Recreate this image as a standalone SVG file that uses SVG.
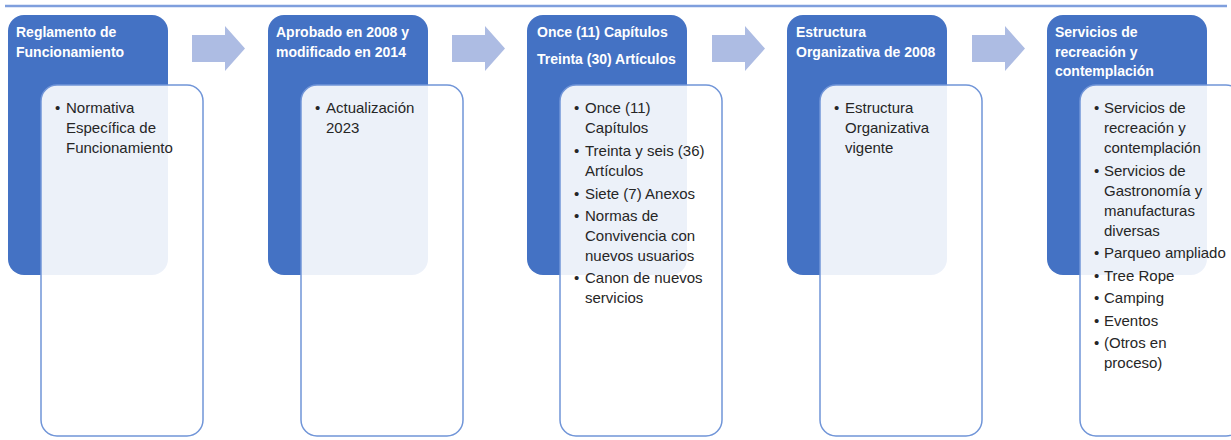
<svg xmlns="http://www.w3.org/2000/svg" width="1231" height="440" viewBox="0 0 1231 440">
<style>
.bg{fill:#ffffff}
.hdr{fill:#4472C4}
.card{fill:#ffffff;fill-opacity:0.9;stroke:#7095D8;stroke-width:1.5}
.ht{font-family:"Liberation Sans",Arial,sans-serif;font-weight:bold;font-size:14px;fill:#ffffff}
.bt{font-family:"Liberation Sans",Arial,sans-serif;font-size:15px;fill:#262626}
.arrow{fill:#ADBCE3}
.topline{stroke:#7F9FDD;stroke-width:2.5}
</style>
<rect class="bg" x="0" y="0" width="1231" height="440"/>
<line class="topline" x1="5" y1="6" x2="1227" y2="6"/>

<g id="connectors">
<path class="arrow" d="M192,35 H225 V26 L245,48.5 L225,71 V62 H192 Z"/>
<path class="arrow" d="M452,35 H485 V26 L505,48.5 L485,71 V62 H452 Z"/>
<path class="arrow" d="M712,35 H745 V26 L765,48.5 L745,71 V62 H712 Z"/>
<path class="arrow" d="M972,35 H1005 V26 L1025,48.5 L1005,71 V62 H972 Z"/>
</g>

<g id="node1">
<rect class="hdr" x="8" y="15" width="160" height="260" rx="16"/>
<text class="ht" x="16" y="37">Reglamento de</text>
<text class="ht" x="16" y="57">Funcionamiento</text>
<rect class="card" x="41" y="85" width="162" height="351" rx="16"/>
<text class="bt" x="55" y="113">•</text>
<text class="bt" x="66" y="113">Normativa</text>
<text class="bt" x="66" y="133">Específica de</text>
<text class="bt" x="66" y="153">Funcionamiento</text>
</g>

<g id="node2">
<rect class="hdr" x="268" y="15" width="160" height="260" rx="16"/>
<text class="ht" x="276" y="37">Aprobado en 2008 y</text>
<text class="ht" x="276" y="57">modificado en 2014</text>
<rect class="card" x="301" y="85" width="162" height="351" rx="16"/>
<text class="bt" x="315" y="113">•</text>
<text class="bt" x="326" y="113">Actualización</text>
<text class="bt" x="326" y="133">2023</text>
</g>

<g id="node3">
<rect class="hdr" x="527" y="15" width="160" height="260" rx="16"/>
<text class="ht" x="537" y="37">Once (11) Capítulos</text>
<text class="ht" x="537" y="64">Treinta (30) Artículos</text>
<rect class="card" x="560" y="85" width="162" height="351" rx="16"/>
<text class="bt" x="574" y="113">•</text>
<text class="bt" x="585" y="113">Once (11)</text>
<text class="bt" x="585" y="133">Capítulos</text>
<text class="bt" x="574" y="156">•</text>
<text class="bt" x="585" y="156">Treinta y seis (36)</text>
<text class="bt" x="585" y="176">Artículos</text>
<text class="bt" x="574" y="199">•</text>
<text class="bt" x="585" y="199">Siete (7) Anexos</text>
<text class="bt" x="574" y="221">•</text>
<text class="bt" x="585" y="221">Normas de</text>
<text class="bt" x="585" y="241">Convivencia con</text>
<text class="bt" x="585" y="261">nuevos usuarios</text>
<text class="bt" x="574" y="283">•</text>
<text class="bt" x="585" y="283">Canon de nuevos</text>
<text class="bt" x="585" y="303">servicios</text>
</g>

<g id="node4">
<rect class="hdr" x="787" y="15" width="160" height="260" rx="16"/>
<text class="ht" x="796" y="37">Estructura</text>
<text class="ht" x="796" y="57">Organizativa de 2008</text>
<rect class="card" x="820" y="85" width="162" height="351" rx="16"/>
<text class="bt" x="834" y="113">•</text>
<text class="bt" x="845" y="113">Estructura</text>
<text class="bt" x="845" y="133">Organizativa</text>
<text class="bt" x="845" y="153">vigente</text>
</g>

<g id="node5">
<rect class="hdr" x="1047" y="15" width="160" height="260" rx="16"/>
<text class="ht" x="1055" y="37">Servicios de</text>
<text class="ht" x="1055" y="57">recreación y</text>
<text class="ht" x="1055" y="76">contemplación</text>
<rect class="card" x="1080" y="85" width="162" height="351" rx="16"/>
<text class="bt" x="1094" y="113">•</text>
<text class="bt" x="1104" y="113">Servicios de</text>
<text class="bt" x="1104" y="133">recreación y</text>
<text class="bt" x="1104" y="153">contemplación</text>
<text class="bt" x="1094" y="176">•</text>
<text class="bt" x="1104" y="176">Servicios de</text>
<text class="bt" x="1104" y="196">Gastronomía y</text>
<text class="bt" x="1104" y="216">manufacturas</text>
<text class="bt" x="1104" y="236">diversas</text>
<text class="bt" x="1094" y="258">•</text>
<text class="bt" x="1104" y="258">Parqueo ampliado</text>
<text class="bt" x="1094" y="281">•</text>
<text class="bt" x="1104" y="281">Tree Rope</text>
<text class="bt" x="1094" y="303">•</text>
<text class="bt" x="1104" y="303">Camping</text>
<text class="bt" x="1094" y="326">•</text>
<text class="bt" x="1104" y="326">Eventos</text>
<text class="bt" x="1094" y="348">•</text>
<text class="bt" x="1104" y="348">(Otros en</text>
<text class="bt" x="1104" y="368">proceso)</text>
</g>
</svg>
